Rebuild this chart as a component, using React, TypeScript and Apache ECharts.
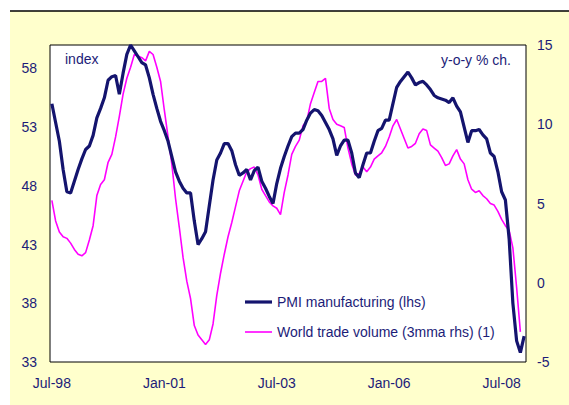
import React, { useEffect, useRef } from "react";
import * as echarts from "echarts";

const MONTHS = ["Jan", "Feb", "Mar", "Apr", "May", "Jun", "Jul", "Aug", "Sep", "Oct", "Nov", "Dec"];
// Jul-98 .. Jan-09 (127 months)
const categories: string[] = [];
for (let k = 0; k < 127; k++) {
  const m = (6 + k) % 12;
  const y = 1998 + Math.floor((6 + k) / 12);
  categories.push(MONTHS[m] + "-" + String(y % 100).padStart(2, "0"));
}

const pmi = [
  55.0, 53.4, 51.8, 49.4, 47.5, 47.4, 48.4, 49.4, 50.3, 51.1,
  51.4, 52.3, 53.8, 54.6, 55.5, 57.0, 57.3, 57.4, 55.8, 57.6,
  59.2, 60.0, 59.5, 59.0, 58.5, 58.3, 57.2, 55.8, 54.6, 53.5,
  52.7, 51.8, 50.5, 49.2, 48.4, 47.8, 47.4, 47.4, 45.0, 43.0,
  43.5, 44.1, 46.3, 48.5, 50.2, 50.8, 51.6, 51.6, 51.0, 49.8,
  48.9, 49.1, 49.4, 48.5, 49.3, 49.6, 48.4, 47.8, 47.1, 46.5,
  48.2, 49.5, 50.5, 51.4, 52.2, 52.5, 52.5, 52.8, 53.6, 54.2,
  54.5, 54.4, 54.0, 53.4, 52.8, 52.0, 50.6, 51.4, 51.9, 51.9,
  50.8, 49.1, 48.7, 49.8, 50.8, 50.8, 51.8, 52.7, 52.9, 53.6,
  53.6, 55.0, 56.4, 56.9, 57.3, 57.7, 57.2, 56.6, 56.8, 56.9,
  56.6, 56.2, 55.7, 55.5, 55.4, 55.3, 55.1, 55.5, 54.8, 54.3,
  53.0, 51.7, 52.7, 52.7, 52.8, 52.35, 52.0, 50.8, 50.5, 49.2,
  47.5, 46.8, 43.5, 38.0, 34.8, 33.8, 35.2,
];

const trade = [
  5.2, 3.9, 3.2, 2.9, 2.8, 2.5, 2.1, 1.8, 1.7, 1.9,
  2.7, 3.6, 5.5, 6.2, 6.5, 7.6, 8.1, 9.2, 10.5, 11.9,
  12.9, 13.6, 14.4, 14.3, 14.2, 14.0, 14.6, 14.4, 13.6, 12.7,
  10.9, 9.2, 7.5, 5.3, 3.5, 1.6, 0.1, -1.0, -2.7, -3.3,
  -3.6, -3.9, -3.6, -2.6, -0.8, 0.6, 1.8, 2.9, 3.8, 4.8,
  5.8, 6.4, 7.0, 7.2, 7.3, 6.8, 5.9, 5.5, 5.1, 4.85,
  4.7, 4.3, 5.7, 6.8, 8.1, 8.6, 9.0, 9.9, 10.2, 11.3,
  12.0, 12.7, 12.7, 12.9, 11.0, 10.3, 10.0, 9.9, 9.8, 8.5,
  7.5, 6.8, 6.9, 7.3, 7.0, 7.3, 7.8, 8.0, 8.2, 8.6,
  9.2, 9.9, 10.3, 9.7, 9.1, 8.5, 8.6, 8.8, 9.4, 9.7,
  9.6, 8.7, 8.5, 8.3, 7.9, 7.4, 7.5, 8.0, 8.4, 7.8,
  7.5, 6.5, 5.9, 5.7, 5.8, 5.5, 5.3, 5.0, 4.9, 4.5,
  4.0, 3.6, 3.3, 2.2, -0.3, -3.1,
];

const leftTicks = [33, 38, 43, 48, 53, 58];
const rightTicks = [-5, 0, 5, 10, 15];
const seriesNames = ["PMI manufacturing (lhs)", "World trade volume (3mma rhs) (1)"];

const NAVY = "#14146e";
const MAGENTA = "#ff00ff";
const TEXT = "#1c1c78";
const FONT = "'Liberation Sans', Arial, sans-serif";

export default function App() {
  const ref = useRef<HTMLDivElement>(null);
  useEffect(() => {
    if (!ref.current) return;
    const chart = echarts.init(ref.current, null, { renderer: "svg" });
    chart.setOption({
      animation: false,
      backgroundColor: "#ffffff",
      textStyle: { fontFamily: FONT },
      graphic: [
        { type: "rect", left: 10, top: 11, shape: { width: 559, height: 394 }, style: { fill: "#ffffcc" }, z: -10 },
        { type: "line", shape: { x1: 10, y1: 11, x2: 569, y2: 11 }, style: { stroke: "#000", lineWidth: 1.5 }, z: 5 },
        { type: "text", x: 65, y: 52, style: { text: "index", fill: TEXT, font: "14px " + FONT }, z: 10 },
        { type: "text", x: 511, y: 53, style: { text: "y-o-y % ch.", fill: TEXT, font: "14px " + FONT, textAlign: "right" }, z: 10 },
      ],
      grid: {
        left: 50,
        top: 45,
        right: 43,
        bottom: 43,
        show: true,
        backgroundColor: "#ffffff",
        borderColor: "#000000",
        borderWidth: 1,
        containLabel: false,
      },
      legend: {
        orient: "vertical",
        left: 240,
        top: 290,
        itemWidth: 27,
        itemHeight: 14,
        itemGap: 16,
        data: [
          { name: seriesNames[0], icon: "path://M0,0L27,0L27,3.2L0,3.2Z", itemStyle: { color: NAVY } },
          { name: seriesNames[1], icon: "path://M0,0L27,0L27,1.6L0,1.6Z", itemStyle: { color: MAGENTA } },
        ],
        textStyle: { color: TEXT, fontSize: 14, fontFamily: FONT },
      },
      xAxis: {
        type: "category",
        data: categories,
        boundaryGap: true,
        axisLine: { show: false },
        axisTick: { show: false },
        splitLine: { show: false },
        axisLabel: {
          interval: 29,
          margin: 14,
          color: TEXT,
          fontSize: 14,
          fontFamily: FONT,
        },
      },
      yAxis: [
        {
          type: "value",
          min: leftTicks[0],
          max: 60,
          interval: 5,
          axisLine: { show: false },
          axisTick: { show: false },
          splitLine: { show: false },
          axisLabel: {
            color: TEXT,
            fontSize: 14,
            fontFamily: FONT,
            margin: 13,
            formatter: (v: number) => (leftTicks.includes(Math.round(v * 100) / 100) ? String(v) : ""),
          },
        },
        {
          type: "value",
          min: rightTicks[0],
          max: rightTicks[rightTicks.length - 1],
          interval: 5,
          position: "right",
          axisLine: { show: false },
          axisTick: { show: false },
          splitLine: { show: false },
          axisLabel: { color: TEXT, fontSize: 14, fontFamily: FONT, margin: 11 },
        },
      ],
      series: [
        {
          name: seriesNames[0],
          type: "line",
          yAxisIndex: 0,
          data: pmi,
          symbol: "none",
          lineStyle: { color: NAVY, width: 3.2 },
          itemStyle: { color: NAVY },
          z: 3,
        },
        {
          name: seriesNames[1],
          type: "line",
          yAxisIndex: 1,
          data: trade,
          symbol: "none",
          lineStyle: { color: MAGENTA, width: 1.6 },
          itemStyle: { color: MAGENTA },
          z: 2,
        },
      ],
    });
    return () => chart.dispose();
  }, []);
  return (
    <div
      ref={ref}
      style={{ position: "fixed", left: 0, top: 0, width: 569, height: 405 }}
    />
  );
}
